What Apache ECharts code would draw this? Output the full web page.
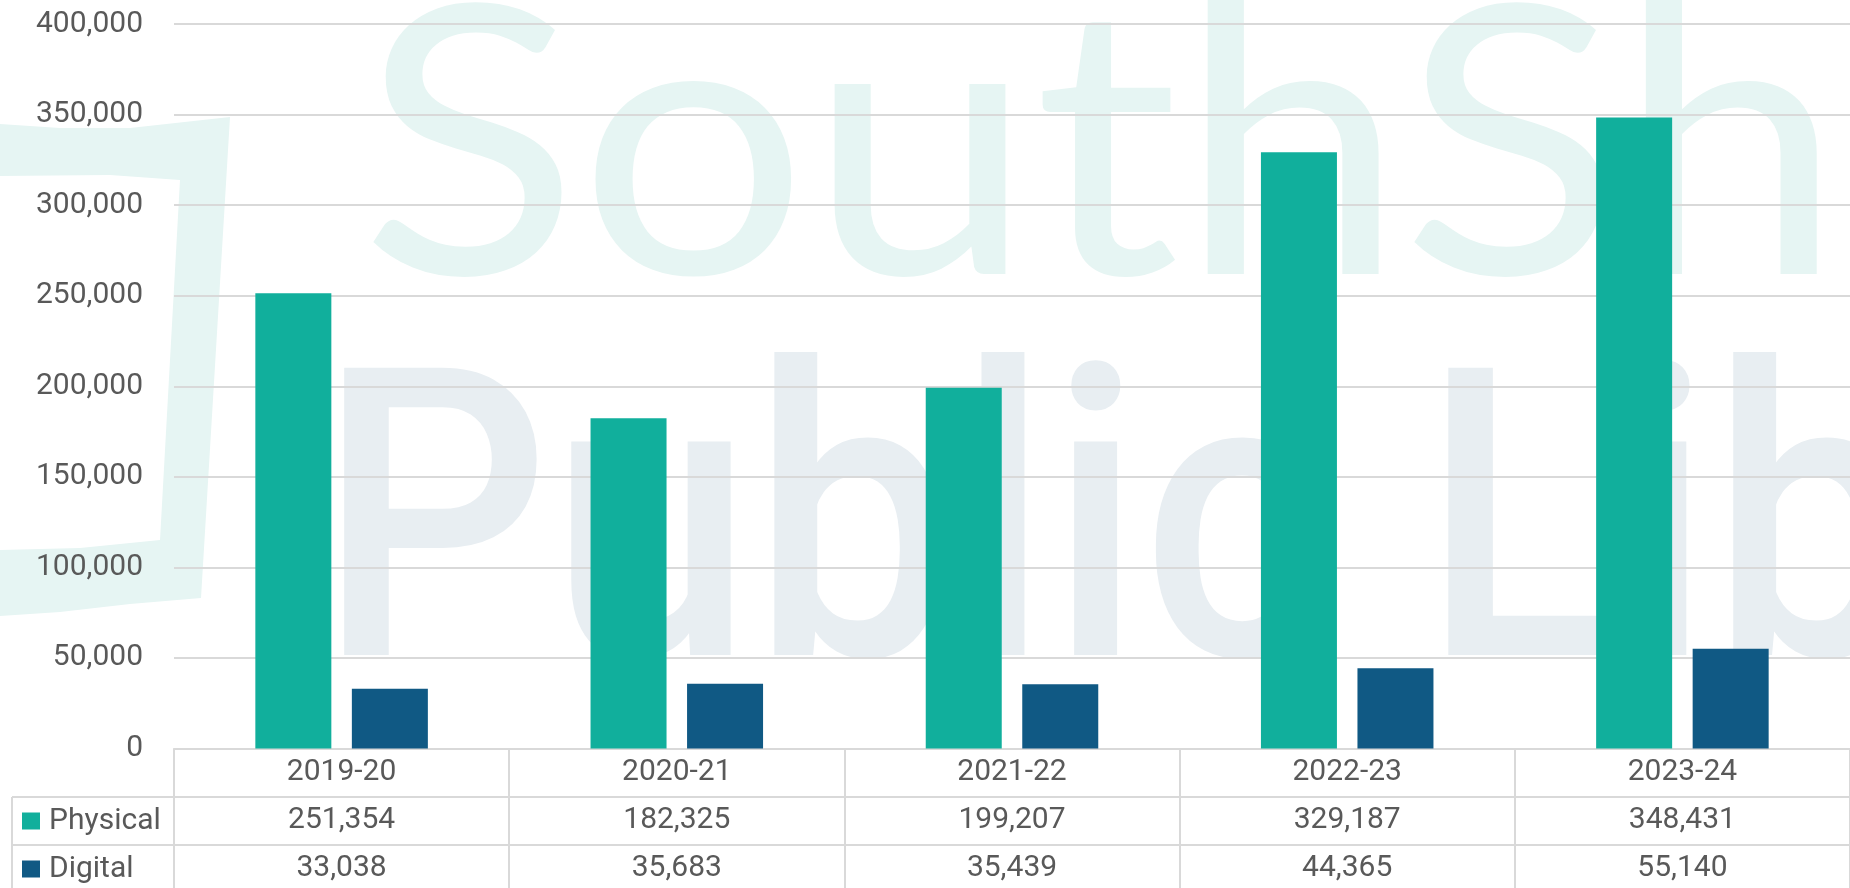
<!DOCTYPE html>
<html>
<head>
<meta charset="utf-8">
<title>Physical and digital circulation</title>
<script src="https://cdn.jsdelivr.net/npm/echarts@6/dist/echarts.min.js"></script>
<style>
  html, body { margin: 0; padding: 0; background: #fff; }
  #chart { width: 1850px; height: 888px; }
</style>
</head>
<body>
<div id="chart"></div>
<script>
// data
var years = ['2019-20', '2020-21', '2021-22', '2022-23', '2023-24'];
var physical = [251354, 182325, 199207, 329187, 348431];
var digital = [33038, 35683, 35439, 44365, 55140];
var seriesNames = ['Physical', 'Digital'];
var yMin = 0;
var yMax = 400000;
var yStep = 50000;

var textColor = '#595959';
var lineColor = '#d9d9d9';
var rowHeight = 48;

function fmt(v) {
    return Number(v).toLocaleString('en-US');
}

// one axis per table row, stacked under the plot
function tableAxis(offset, rowValues) {
    return {
        type: 'category',
        data: years,
        position: 'bottom',
        offset: offset,
        axisLine: { show: true, lineStyle: { color: lineColor, width: 2 } },
        axisTick: { show: true, interval: 0, length: rowHeight, lineStyle: { color: lineColor, width: 2 } },
        axisLabel: {
            interval: 0,
            margin: 9,
            fontSize: 30,
            lineHeight: 30,
            fontFamily: 'Roboto',
            color: textColor,
            formatter: function (v, i) {
                return rowValues ? fmt(rowValues[i]) : v;
            }
        },
        splitLine: { show: false }
    };
}

var chart = echarts.init(document.getElementById('chart'));

var option = {
    animation: false,
    backgroundColor: '#fff',
    color: ['#11af9c', '#105984'],
    grid: { left: 174, right: -10, top: 24, bottom: 139.5 },
    legend: {
        data: seriesNames,
        orient: 'vertical',
        left: 22,
        top: 806,
        padding: 0,
        height: 120,
        icon: 'rect',
        itemWidth: 18,
        itemHeight: 17,
        itemGap: 18,
        selectedMode: false,
        textStyle: { fontSize: 30, lineHeight: 30, fontFamily: 'Roboto', color: textColor, padding: [0, 0, 0, 4] }
    },
    xAxis: [
        tableAxis(0, null),
        tableAxis(rowHeight, physical),
        tableAxis(rowHeight * 2, digital)
    ],
    yAxis: {
        type: 'value',
        min: yMin,
        max: yMax,
        interval: yStep,
        axisLine: { show: false },
        axisTick: { show: false },
        axisLabel: { fontSize: 30, fontFamily: 'Roboto', color: textColor, margin: 31, formatter: fmt },
        splitLine: { lineStyle: { color: lineColor, width: 2 } }
    },
    graphic: [
        // faint library logo behind the plot
        {
            type: 'polygon', silent: true, z: -10,
            shape: {
                points: [[0, 124], [60, 128], [130, 128], [230, 117], [201, 598], [130, 604], [60, 612], [0, 616],
                    [0, 550], [80, 548], [160, 540], [180, 180], [110, 175], [0, 176]]
            },
            style: { fill: '#e6f5f3' }
        },
        {
            type: 'text', silent: true, z: -10, x: 360, y: 153, scaleX: 1.08,
            style: { text: 'South', fontSize: 375, fontFamily: 'Lato', fill: '#e6f5f3', verticalAlign: 'middle' }
        },
        {
            type: 'text', silent: true, z: -10, x: 1401, y: 153, scaleX: 1.08,
            style: { text: 'Shore', fontSize: 375, fontFamily: 'Lato', fill: '#e6f5f3', verticalAlign: 'middle' }
        },
        {
            type: 'text', silent: true, z: -10, x: 318, y: 554, scaleX: 0.9,
            style: { text: 'Public Libraries', fontSize: 404, fontWeight: 500, fontFamily: 'Roboto', fill: '#e8eef2', verticalAlign: 'middle' }
        },
        // frame around the legend cells
        { type: 'line', silent: true, shape: { x1: 12, y1: 797, x2: 175, y2: 797 }, style: { stroke: lineColor, lineWidth: 2 } },
        { type: 'line', silent: true, shape: { x1: 12, y1: 845, x2: 175, y2: 845 }, style: { stroke: lineColor, lineWidth: 2 } },
        { type: 'line', silent: true, shape: { x1: 12, y1: 797, x2: 12, y2: 888 }, style: { stroke: lineColor, lineWidth: 2 } }
    ],
    series: [
        {
            name: seriesNames[0],
            type: 'bar',
            xAxisIndex: 0,
            barWidth: 76,
            barGap: '27%',
            data: physical
        },
        {
            name: seriesNames[1],
            type: 'bar',
            xAxisIndex: 0,
            barWidth: 76,
            data: digital
        }
    ]
};

chart.setOption(option);
</script>
</body>
</html>
